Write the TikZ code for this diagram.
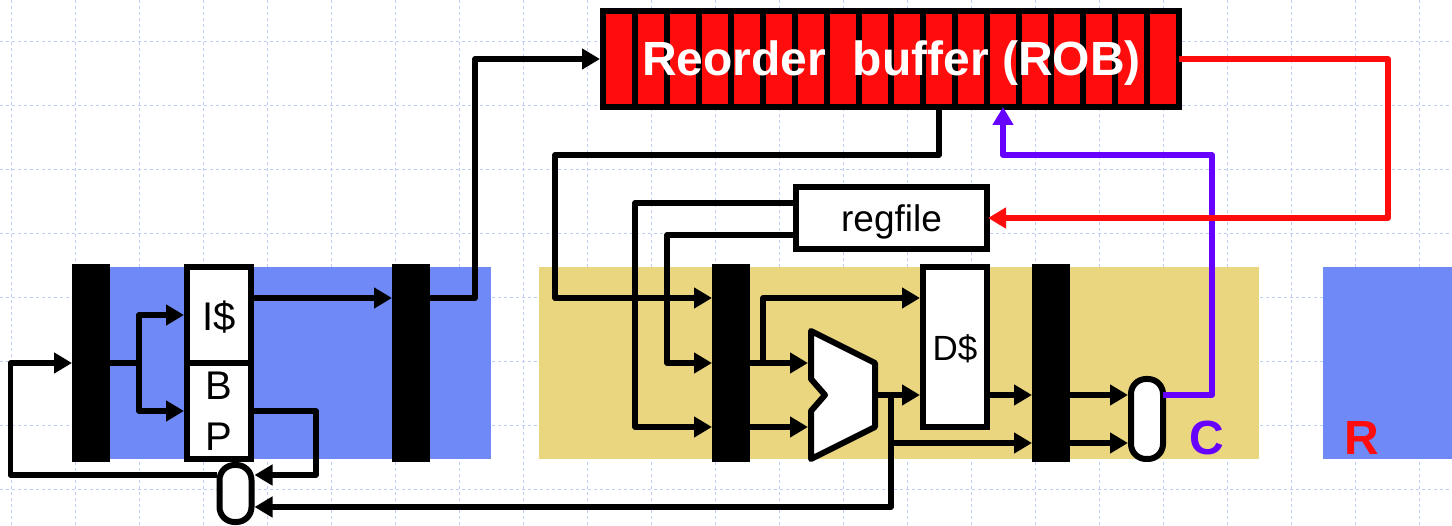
\documentclass[tikz,border=0pt]{standalone}
\usepackage{fontspec}
\setmainfont{Liberation Sans}
\usetikzlibrary{arrows.meta,positioning}
\definecolor{bandblue}{HTML}{6F8AF6}
\definecolor{bandyellow}{HTML}{EAD67F}
\definecolor{robred}{HTML}{FF0C0C}
\definecolor{commitpurple}{HTML}{6600FF}
\definecolor{gridblue}{HTML}{BFCDFA}

\begin{document}
\begin{tikzpicture}[x=1pt,y=-1pt,font=\fontsize{40}{51}\selectfont,>={Triangle[length=18pt,width=20pt]},
 band/.style={minimum height=192pt,inner sep=0pt,outer sep=0pt},
 latch/.style={fill=black,minimum width=38pt,minimum height=198pt,inner sep=0pt,outer sep=0pt},
 box/.style={draw,fill=white,line width=6pt,inner sep=0pt,align=center},
 pill/.style={draw,fill=white,line width=6pt,rounded corners=15pt,inner sep=0pt,minimum width=32pt},
 wire/.style={line width=5.5pt,line join=round},
 commit/.style={wire,color=commitpurple},
 retire/.style={wire,color=robred},
 stage/.style={font=\fontsize{48}{50}\selectfont\bfseries}]
\useasboundingbox (0,0) rectangle (1452,526);
% dashed sheet grid
\foreach \x in {11,75,...,1450} \draw[gridblue,dashed,line width=1pt] (\x,0) -- (\x,526);
\foreach \y in {42,106,...,500} \draw[gridblue,dashed,line width=1pt] (0,\y) -- (1452,\y);

% bands
\node[band,fill=bandblue,minimum width=400pt] (frontband) at (291,363) {};
\node[band,fill=bandyellow,minimum width=720pt] (execband) at (899,363) {};
\node[band,fill=bandblue,minimum width=129pt] (retireband) at (1387.5,363) {};

% latches
\node[latch] (fetchlatch) at (91,363) {};
\node[latch,right=282pt of fetchlatch] (decodelatch) {};
\node[latch] (execlatch) at (731,363) {};
\node[latch,right=282pt of execlatch] (memlatch) {};

% front end
\node[box,minimum width=64pt,minimum height=96pt,text height=32pt,text depth=0pt] (icache) at (219,315) {I\$};
\node[box,minimum width=64pt,minimum height=96pt,below=-6pt of icache] (bpred) {B\\P};
\node[pill,minimum height=57pt] (brmux) at (235.5,493.5) {};

% reorder buffer
\node[draw,fill=robred,line width=6pt,inner sep=0pt,minimum width=576pt,minimum height=96pt] (rob) at (891,59) {};
\foreach \x in {635,667,...,1147} \draw[line width=6pt] (\x,11) -- (\x,107);
\node[text=white,font=\fontsize{48}{50}\selectfont\bfseries] (roblabel) at (891.5,63) {Reorder\ \ buffer (ROB)};

% back end
\node[box,minimum width=191pt,minimum height=62pt,text height=28pt,text depth=0pt,font=\fontsize{37}{40}\selectfont] (regfile) at (891.5,218) {regfile};
\node[box,minimum width=64pt,minimum height=160pt,text height=28pt,text depth=0pt,font=\fontsize{35}{40}\selectfont] (dcache) at (955,347) {D\$};
\node[pill,minimum height=80pt] (cmux) at (1147,419) {};
\draw[fill=white,line width=6pt,line join=round] (811,331) -- (875,363) -- (875,427) -- (811,459) -- (811,411) -- (825,395) -- (811,379) -- cycle;
\coordinate (aluA) at (808,363);
\coordinate (aluB) at (808,427);
\coordinate (aluout) at (878,395);

% helper corners
\coordinate (fetchfork) at (139,363);
\coordinate (bpturn) at (316,475);
\coordinate (robbus) at (555,155);
\coordinate (regtapA) at (635,427);
\coordinate (regtapB) at (667,363);
\coordinate (dfork) at (763,363);
\coordinate (alufork) at (891,395);
\coordinate (commitbus) at (1212,155);

% front end wires
\draw[wire,->] (fetchlatch.east) -- (fetchfork) |- (icache.west);
\draw[wire,->] (fetchfork) |- (bpred.west);
\draw[wire,->] ([yshift=17pt]icache.east) -- ([yshift=65pt]decodelatch.west);
\draw[wire,->] ([yshift=65pt]decodelatch.east) -- ++(45,0) |- (rob.west);
\draw[wire,->] (bpred.east) -| (bpturn) -- ([yshift=18.5pt]brmux.east);
\draw[wire,->] ([yshift=18.5pt]brmux.west) -- ++(-206,0) |- (fetchlatch.west);

% back end wires
\draw[wire,->] ([xshift=48pt]rob.south) |- (robbus) |- ([yshift=65pt]execlatch.west);
\draw[wire,->] ([yshift=15pt]regfile.west) -| (regtapA) -- ([yshift=-64pt]execlatch.west);
\draw[wire,->] ([yshift=-17pt]regfile.west) -| (regtapB) -- (execlatch.west);
\draw[wire,->] (execlatch.east) -- (aluA);
\draw[wire,->] ([yshift=-64pt]execlatch.east) -- (aluB);
\draw[wire,->] (dfork) |- ([yshift=49pt]dcache.west);
\draw[wire,->] (aluout) -- (dcache.west |- aluout);
\draw[wire,->] (alufork) |- ([yshift=-80pt]memlatch.west);
\draw[wire,->] (alufork) |- ([yshift=-13.5pt]brmux.east);
\draw[wire,->] ([yshift=-48pt]dcache.east) -- ([yshift=-32pt]memlatch.west);
\draw[wire,->] ([yshift=-32pt]memlatch.east) -- ([yshift=24pt]cmux.west);
\draw[wire,->] ([yshift=-80pt]memlatch.east) -- ([yshift=-24pt]cmux.west);

% commit and retire
\draw[commit,->] ([yshift=24pt,xshift=-3pt]cmux.east) -| (commitbus) -| ([xshift=112pt,yshift=3pt]rob.south);
\draw[retire,->] ([xshift=-3pt]rob.east) -- ++(209,0) |- ([xshift=-2pt]regfile.east);

\node[stage,text=commitpurple] (clabel) at (1206.5,438) {C};
\node[stage,text=robred] (rlabel) at (1361.5,438) {R};
\end{tikzpicture}
\end{document}
